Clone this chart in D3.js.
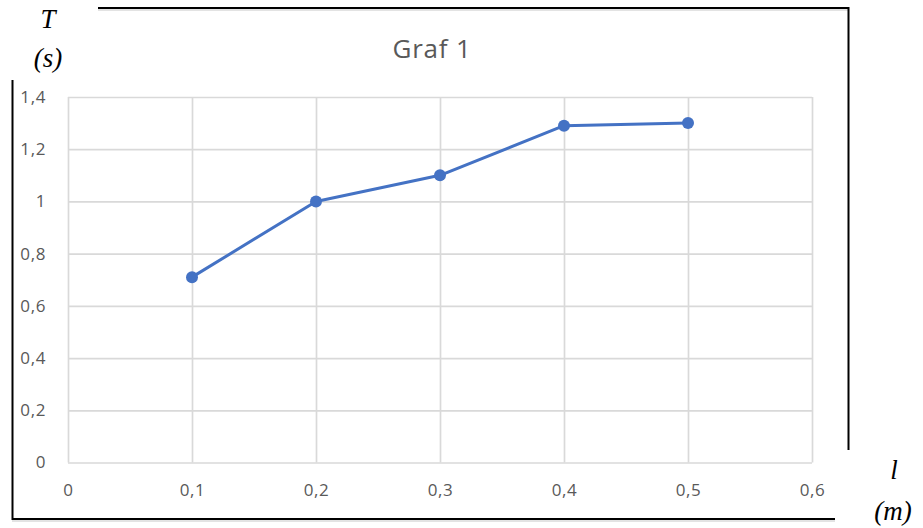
<!doctype html>
<html>
  <head>
    <script src="https://cdn.jsdelivr.net/npm/d3@7"></script>
    <style>
      body { margin: 0; background: #fff; }
    </style>
  </head>
  <body>
    <svg id="chart" width="923" height="528"></svg>
    <script>
      // data
      var lengths = [0.1, 0.2, 0.3, 0.4, 0.5];
      var periods = [0.71, 1.0, 1.1, 1.29, 1.3];
      var xTicks = [0, 0.1, 0.2, 0.3, 0.4, 0.5, 0.6];
      var yTicks = [0, 0.2, 0.4, 0.6, 0.8, 1, 1.2, 1.4];
      var title = "Graf 1";

      var svg = d3.select("#chart");
      var fmt = function(d) { return String(d).replace(".", ","); };

      var x = d3.scaleLinear().domain([0, 0.6]).range([68, 812]);
      var y = d3.scaleLinear().domain([0, 1.4]).range([462.5, 97]);

      // frame (partial border around the chart)
      var frame = svg.append("g").attr("fill", "none");
      frame.append("line").attr("x1", 98).attr("x2", 849).attr("y1", 10).attr("y2", 10)
        .attr("stroke", "#e3e3e3").attr("stroke-width", 2);
      frame.append("line").attr("x1", 12).attr("x2", 835).attr("y1", 521).attr("y2", 521)
        .attr("stroke", "#e3e3e3").attr("stroke-width", 2);
      frame.append("line").attr("x1", 98).attr("x2", 849).attr("y1", 8).attr("y2", 8)
        .attr("stroke", "#000").attr("stroke-width", 2);
      frame.append("line").attr("x1", 848.5).attr("x2", 848.5).attr("y1", 7).attr("y2", 450)
        .attr("stroke", "#000").attr("stroke-width", 2);
      frame.append("line").attr("x1", 12.5).attr("x2", 12.5).attr("y1", 80).attr("y2", 520)
        .attr("stroke", "#000").attr("stroke-width", 2);
      frame.append("line").attr("x1", 12).attr("x2", 835).attr("y1", 519).attr("y2", 519)
        .attr("stroke", "#000").attr("stroke-width", 2);

      // gridlines
      svg.append("g")
        .attr("transform", "translate(0,462.5)")
        .call(d3.axisBottom(x).tickValues(xTicks).tickSize(-(462.5 - 97)).tickFormat(""))
        .call(function(g) { g.select(".domain").remove(); })
        .selectAll("line").attr("stroke", "#d9d9d9").attr("stroke-width", 1.7);
      svg.append("g")
        .attr("transform", "translate(68,0)")
        .call(d3.axisLeft(y).tickValues(yTicks).tickSize(-(812 - 68)).tickFormat(""))
        .call(function(g) { g.select(".domain").remove(); })
        .selectAll("line").attr("stroke", "#d9d9d9").attr("stroke-width", 1.7);

      // tick labels
      function styleLabels(g) {
        g.select(".domain").remove();
        g.attr("font-size", null).attr("font-family", null);
        g.selectAll("text")
          .attr("fill", "#595959")
          .style("font-family", "'Open Sans', 'Noto Sans', sans-serif")
          .style("font-size", "17px")
          .style("letter-spacing", "0.6px");
      }
      svg.append("g")
        .attr("transform", "translate(0,481)")
        .call(d3.axisBottom(x).tickValues(xTicks).tickSize(0).tickFormat(fmt))
        .call(styleLabels);
      svg.append("g")
        .attr("transform", "translate(49,0)")
        .call(d3.axisLeft(y).tickValues(yTicks).tickSize(0).tickFormat(fmt))
        .call(styleLabels);

      // title
      svg.append("text")
        .attr("x", 432).attr("y", 58)
        .attr("text-anchor", "middle")
        .attr("fill", "#595959")
        .style("font-family", "'Open Sans', 'Noto Sans', sans-serif")
        .style("font-size", "26px")
        .style("letter-spacing", "0.8px")
        .text(title);

      // axis names
      var names = [
        { t: "T", x: 48, y: 28 },
        { t: "(s)", x: 48, y: 67 },
        { t: "l", x: 894, y: 479 },
        { t: "(m)", x: 893, y: 520 }
      ];
      svg.selectAll(".axname").data(names).enter().append("text")
        .attr("class", "axname")
        .attr("x", function(d) { return d.x; })
        .attr("y", function(d) { return d.y; })
        .attr("text-anchor", "middle")
        .style("font-family", "'Liberation Serif', 'DejaVu Serif', serif")
        .style("font-style", "italic")
        .style("font-size", "27px")
        .attr("fill", "#000")
        .text(function(d) { return d.t; });

      // series
      var pts = lengths.map(function(l, i) { return [l, periods[i]]; });
      svg.append("path")
        .datum(pts)
        .attr("fill", "none")
        .attr("stroke", "#4472c4")
        .attr("stroke-width", 3)
        .attr("stroke-linejoin", "round")
        .attr("d", d3.line().x(function(d) { return x(d[0]); }).y(function(d) { return y(d[1]); }));
      svg.selectAll(".dot").data(pts).enter().append("circle")
        .attr("class", "dot")
        .attr("cx", function(d) { return x(d[0]); })
        .attr("cy", function(d) { return y(d[1]); })
        .attr("r", 6)
        .attr("fill", "#4472c4");
    </script>
  </body>
</html>
